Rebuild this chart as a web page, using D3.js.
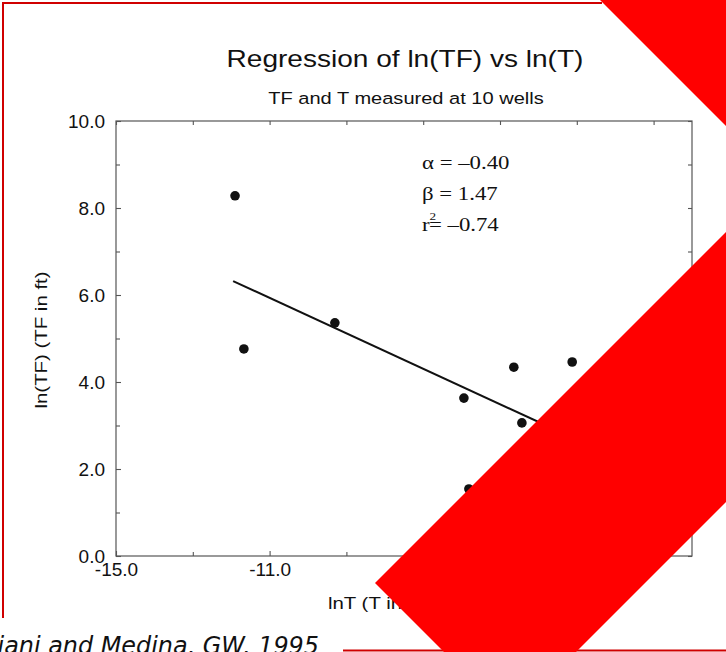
<!DOCTYPE html>
<html>
<head>
<meta charset="utf-8">
<script src="https://cdn.jsdelivr.net/npm/d3@7"></script>
<style>
  body { margin: 0; background: #fff; }
  svg { display: block; }
</style>
</head>
<body>
<svg id="canvas" width="726" height="652"></svg>
<script>
// ln(T) and ln(TF) at the 10 wells (two of them sit under the red band)
let lnT  = [-11.9, -11.67, -9.30, -5.94, -4.64, -3.12, -4.43, -5.81, -3.5, -2.2]
let lnTF = [8.28, 4.76, 5.36, 3.63, 4.34, 4.46, 3.06, 1.54, 1.9, 2.3]

// fitted line at its two ends
let fitT  = [-11.95, -2.2]
let fitTF = [6.32, 2.35]

let xMajor = [-15, -11, -7, -3]
let xMinor = [-13, -9, -5, -1]
let yMajor = [0, 2, 4, 6, 8, 10]
let yMinor = [1, 3, 5, 7, 9]

let stats = ['α = –0.40', 'β = 1.47', '–0.74']

let canvas = d3.select('#canvas')
canvas.append('rect').attr('width', 726).attr('height', 652).attr('fill', '#fff')

let x = d3.scaleLinear().domain([-15, 0]).range([116, 692])
let y = d3.scaleLinear().domain([0, 10]).range([556, 121])

let sans = 'Liberation Sans, Arial, Helvetica, sans-serif'
let serif = 'Liberation Serif, Times New Roman, serif'

// plain hyphen for negatives, as on the slide
let fmt = (d) => d3.format('.1f')(d).replace('−', '-')

// text drawn a bit wider than the font, like the scanned slide
let label = (px, py, str, size, family, sx, anchor) => {
    let g = canvas.append('g').attr('transform', 'translate(' + px + ',' + py + ') scale(' + sx + ',1)')
    return g.append('text')
        .attr('font-family', family)
        .attr('font-size', size)
        .attr('fill', '#111')
        .attr('text-anchor', anchor || 'start')
        .text(str)
}

label(405, 67, 'Regression of ln(TF) vs ln(T)', 23, sans, 1.22, 'middle')
label(406, 104, 'TF and T measured at 10 wells', 17, sans, 1.18, 'middle')

// frame
canvas.append('rect')
    .attr('x', x(-15)).attr('y', y(10))
    .attr('width', x(0) - x(-15)).attr('height', y(0) - y(10))
    .attr('fill', 'none').attr('stroke', '#555').attr('stroke-width', 1.2)

let styleAxis = (g) => {
    g.select('.domain').remove()
    g.selectAll('line').attr('stroke', '#555').attr('stroke-width', 1.1)
    g.selectAll('text').attr('font-family', sans).attr('font-size', 19).attr('fill', '#111')
}

canvas.append('g').attr('transform', 'translate(0,' + y(0) + ')')
    .call(d3.axisBottom(x).tickValues(xMajor).tickSizeInner(-5).tickSizeOuter(0)
        .tickPadding(7).tickFormat(fmt))
    .call(styleAxis)
canvas.append('g').attr('transform', 'translate(0,' + y(0) + ')')
    .call(d3.axisBottom(x).tickValues(xMinor).tickSizeInner(-4).tickSizeOuter(0).tickFormat(''))
    .call(styleAxis)
canvas.append('g').attr('transform', 'translate(0,' + y(10) + ')')
    .call(d3.axisTop(x).tickValues(xMajor.concat(xMinor)).tickSizeInner(-4).tickSizeOuter(0).tickFormat(''))
    .call(styleAxis)

canvas.append('g').attr('transform', 'translate(' + x(-15) + ',0)')
    .call(d3.axisLeft(y).tickValues(yMajor).tickSizeInner(-5).tickSizeOuter(0)
        .tickPadding(11).tickFormat(fmt))
    .call(styleAxis)
canvas.append('g').attr('transform', 'translate(' + x(-15) + ',0)')
    .call(d3.axisLeft(y).tickValues(yMinor).tickSizeInner(-4).tickSizeOuter(0).tickFormat(''))
    .call(styleAxis)
canvas.append('g').attr('transform', 'translate(' + x(0) + ',0)')
    .call(d3.axisRight(y).tickValues(yMajor.concat(yMinor)).tickSizeInner(-4).tickSizeOuter(0).tickFormat(''))
    .call(styleAxis)

// axis titles
label(328, 609, 'lnT (T in ft2/day)', 17, sans, 1.2, 'start')
let yt = canvas.append('g').attr('transform', 'translate(47,340) rotate(-90) scale(1.2,1)')
yt.append('text')
    .attr('font-family', sans).attr('font-size', 17).attr('fill', '#111')
    .attr('text-anchor', 'middle')
    .text('ln(TF) (TF in ft)')

// regression line
let line = d3.line().x(d => x(d[0])).y(d => y(d[1]))
canvas.append('path')
    .datum(d3.zip(fitT, fitTF))
    .attr('d', line)
    .attr('fill', 'none')
    .attr('stroke', '#111')
    .attr('stroke-width', 2)

// wells
canvas.selectAll('circle.well')
    .data(d3.zip(lnT, lnTF))
    .enter()
    .append('circle')
    .attr('class', 'well')
    .attr('cx', d => x(d[0]))
    .attr('cy', d => y(d[1]))
    .attr('r', 4.8)
    .attr('fill', '#111')

// regression statistics
label(422, 169, stats[0], 19, serif, 1.2, 'start')
label(422, 200, stats[1], 19, serif, 1.2, 'start')
let r2 = label(422, 231, 'r', 19, serif, 1.2, 'start')
r2.append('tspan').attr('font-size', 11).attr('dy', -11).text('2')
r2.append('tspan').attr('dx', -6).attr('dy', 11).text('= ' + stats[2])

// slide decoration: red frame lines, citation and red ribbons
let frame = canvas.append('g').attr('stroke', '#d00000').attr('stroke-width', 2).attr('fill', 'none')
frame.append('path').attr('d', 'M3,618 L3,3 L602,3')
frame.append('path').attr('d', 'M343,650.5 L726,650.5')

canvas.append('text')
    .attr('x', 319).attr('y', 654)
    .attr('text-anchor', 'end')
    .attr('font-family', 'Comic Sans MS, DejaVu Sans, sans-serif')
    .attr('font-style', 'italic')
    .attr('font-size', 23.9)
    .attr('fill', '#111')
    .text('Cassiani and Medina, GW, 1995')

canvas.append('polygon')
    .attr('points', '600,0 726,0 726,126')
    .attr('fill', '#ff0000')
canvas.append('polygon')
    .attr('points', '375,583 726,232 726,502 576,652 444,652')
    .attr('fill', '#ff0000')
</script>
</body>
</html>
